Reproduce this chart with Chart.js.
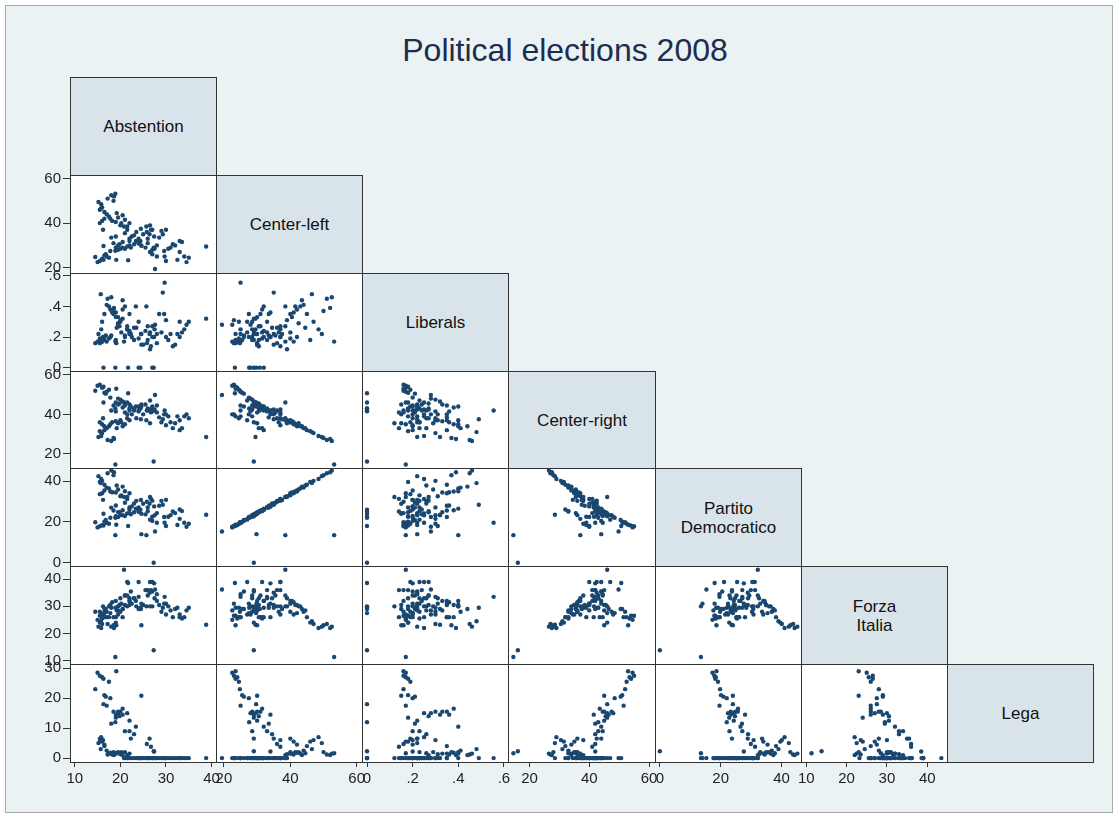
<!DOCTYPE html>
<html>
<head>
<meta charset="utf-8">
<title>Political elections 2008</title>
<script src="https://cdn.jsdelivr.net/npm/chart.js@4.4.1/dist/chart.umd.min.js"></script>
<style>
  body { margin: 0; background: #fff; font-family: "Liberation Sans", Arial, sans-serif; }
  #frame { position: absolute; left: 5px; top: 5px; width: 1108px; height: 808px; background: #eaf2f3; border: 1px solid #a8a8a8; box-sizing: border-box; }
  #title { position: absolute; left: 0; top: 34px; width: 1130px; text-align: center; font-size: 32px; line-height: 32px; color: #1d2c4f; }
  .diag { position: absolute; background: #d9e4ea; border: 1px solid #333; box-sizing: border-box; display: flex; align-items: center; justify-content: center; text-align: center; font-size: 17px; line-height: 19px; color: #111; }
  canvas { position: absolute; }
</style>
</head>
<body>
<div id="frame"></div>
<div id="title">Political elections 2008</div>
<script>
// Valori per provincia (nord, regioni rosse, sud, casi speciali)
const abstention = [
  15.0,15.5,16.3,16.0,17.5,14.5,16.5,16.8,17.0,19.1,17.8,19.5,20.0,20.5,21.5,22.0,19.0,19.8,18.5,20.5,
  23.4,22.0,18.0,19.0,23.0,24.6,15.5,16.0,16.5,22.3,21.0,25.8,26.7,26.4,27.4,19.5,
  15.2,15.8,16.0,15.5,16.5,17.0,17.5,17.2,18.0,18.6,18.5,17.8,18.2,19.0,19.5,20.0,20.5,21.0,15.7,19.2,
  20.2,21.5,22.0,16.2,
  22.0,22.5,23.0,23.5,24.0,24.5,25.0,25.5,26.0,26.5,27.0,27.5,28.0,28.5,29.0,29.3,29.7,29.6,30.0,30.5,
  31.0,31.5,32.0,32.5,33.0,33.5,34.0,34.5,35.0,38.8,21.0,21.5,20.8,24.0,26.0,27.0,28.0,30.0,33.0,26.5,
  18.9,27.3,27.6,24.6,25.7,
  16.3,18.9,21.7,24.0,24.4,27.0
];
const centerLeft = [
  22.5,23.0,23.5,24.0,24.5,24.8,25.5,26.0,25.0,23.5,27.5,28.0,28.5,29.0,29.5,30.0,29.0,30.5,31.0,31.5,
  32.0,33.0,33.5,34.0,34.5,30.0,40.0,41.0,42.0,29.0,28.5,36.0,37.0,35.0,34.0,30.0,
  49.5,48.5,47.0,46.0,45.0,44.0,43.0,51.0,52.5,52.0,50.0,42.0,41.0,40.5,42.5,39.0,43.5,41.5,46.5,44.5,
  40.0,38.5,40.0,37.0,
  32.0,34.0,30.5,36.0,33.0,37.5,35.0,29.0,31.0,27.0,26.0,28.5,30.0,33.5,36.5,35.0,25.0,27.5,37.0,28.5,
  29.0,30.5,30.0,23.5,27.0,31.5,25.0,22.5,24.5,29.5,35.5,37.0,38.5,31.5,33.0,37.0,25.0,23.0,32.0,39.0,
  53.2,29.0,19.4,29.8,38.5,
  29.7,27.6,23.3,30.8,32.0,28.0
];
const liberals = [
  .17,.16,.18,.17,.19,.16,.18,.21,.17,.16,.20,.28,.30,.32,.25,.22,.18,.27,.35,.38,
  .40,.23,.21,.36,.26,.15,.19,.17,.20,.22,.20,.16,.14,.22,.20,.33,
  .22,.25,.30,.18,.35,.41,.40,.45,.46,.39,.37,.38,.36,.33,.29,.31,.44,.40,.48,.26,
  .23,.27,.35,.20,
  .24,.20,.18,.26,.30,.22,.15,.24,.27,.23,.20,.25,.16,.35,.23,.49,.555,.35,.20,.18,
  .22,.14,.15,.22,.30,.23,.25,.28,.30,.32,.21,.25,.17,.19,.18,.27,.22,.31,.20,.12,
  .17,0,.28,.22,.40,
  0,0,0,0,0,0
];
const centerRight = [
  54.5,55.0,54.0,53.5,52.5,52.0,51.0,50.5,51.5,53.0,48.5,48.0,47.5,46.5,46.0,45.0,46.0,45.5,44.5,43.5,
  44.0,43.0,42.0,41.5,42.0,45.0,36.0,35.0,34.0,44.0,44.5,42.0,41.0,42.5,42.0,45.0,
  28.5,29.0,30.5,31.5,32.0,33.0,34.0,27.0,26.5,27.5,28.0,35.0,36.0,36.5,35.5,37.0,34.0,35.0,31.0,33.0,
  36.0,38.0,37.0,38.0,
  42.0,40.0,43.0,38.0,41.5,37.5,40.0,45.0,43.0,47.0,44.0,42.5,41.0,38.5,36.0,37.5,42.0,40.0,34.5,39.0,
  36.0,33.0,35.5,39.0,37.0,33.0,39.0,40.0,38.0,28.5,41.0,40.0,46.0,44.0,42.0,42.5,44.5,40.0,32.0,35.5,
  14.6,16.1,49.8,44.0,37.0,
  46.0,43.0,50.7,42.0,43.0,41.6
];
const partitoDemocratico = [
  17.3,17.9,18.2,18.4,19.1,19.8,20.1,20.9,19.6,18.6,22.0,22.4,23.3,23.3,24.2,24.3,22.8,24.7,25.6,25.7,
  26.5,27.1,27.0,28.0,29.0,24.0,33.6,34.0,35.4,23.7,22.9,29.9,31.3,28.9,27.6,24.8,
  42.4,41.0,40.1,39.6,38.2,36.8,36.4,43.8,45.2,44.3,42.9,34.9,34.5,34.4,35.9,32.6,37.3,35.0,39.0,37.8,
  33.0,32.2,34.0,30.8,
  26.1,27.6,24.7,30.3,27.1,30.7,28.9,23.7,25.2,21.1,20.5,23.2,24.3,27.9,30.3,28.4,19.6,22.4,30.8,22.5,
  23.3,25.1,24.3,18.5,21.5,25.3,19.6,17.6,19.1,23.5,29.4,31.2,32.2,25.4,27.1,30.4,19.6,18.0,26.1,32.2,
  13.5,0,15.3,14.0,13.5,
  24.0,22.0,18.0,25.0,26.0,22.5
];
const forzaItalia = [
  25.0,26.5,26.5,25.5,26.0,28.0,29.0,29.0,26.0,23.0,27.5,27.0,28.0,29.0,30.0,30.5,24.0,30.5,26.0,26.0,
  32.0,33.0,29.5,26.0,33.0,23.0,28.0,27.0,27.5,35.5,34.0,36.0,36.0,35.0,38.5,28.5,
  22.5,22.0,23.5,24.0,26.0,28.0,30.0,23.5,22.5,22.0,23.0,30.5,31.5,32.0,30.0,33.0,29.0,30.5,24.5,28.5,
  31.0,34.0,32.0,30.0,
  32.0,31.0,33.0,30.0,33.5,29.0,30.5,36.0,34.0,39.0,35.5,33.0,32.0,30.5,28.0,29.5,33.5,31.0,27.0,30.0,
  28.5,26.0,29.0,29.5,27.0,25.5,26.0,28.5,29.5,23.2,34.0,39.0,43.5,39.0,36.0,39.0,34.5,31.0,26.0,30.0,
  11.3,13.8,36.2,31.0,30.0,
  27.5,29.5,38.6,29.0,29.5,30.0
];
const lega = [
  28.5,27.5,26.5,27.0,25.5,23.0,21.0,20.5,17.5,29.0,20.0,15.0,15.5,14.5,15.0,12.5,13.5,14.0,15.5,16.5,
  10.5,9.0,11.5,14.5,8.0,20.8,6.5,5.5,4.5,6.5,9.0,4.7,3.8,6.5,2.2,15.5,
  5.0,7.0,6.0,5.5,4.0,2.5,1.5,1.2,1.5,1.0,2.0,1.8,1.2,1.5,2.0,1.3,1.0,2.0,3.0,1.6,
  2.0,1.0,1.5,6.0,
  0,0,0,0,0,0,0,0,0,0,0,0,0,0,0,0,0,0,0,0,
  0,0,0,0,0,0,0,0,0,0,0,0,0,0,0,0,0,0,0,0,
  1.6,2.3,0,0,0,
  18.0,12.0,0,0,0,0
];

// Etichette delle variabili e dei tick
const varLabels = ['Abstention', 'Center-left', 'Liberals', 'Center-right', 'Partito<br>Democratico', 'Forza<br>Italia', 'Lega'];
const abstentionTicks = [10, 20, 30, 40];
const centerLeftTicks = [20, 40, 60];
const liberalsTicks = [0, .2, .4, .6];
const centerRightTicks = [20, 40, 60];
const pdTicks = [0, 20, 40];
const forzaTicks = [10, 20, 30, 40];
const legaTicks = [0, 10, 20, 30];

const series = [abstention, centerLeft, liberals, centerRight, partitoDemocratico, forzaItalia, lega];
const tickSets = [abstentionTicks, centerLeftTicks, liberalsTicks, centerRightTicks, pdTicks, forzaTicks, legaTicks];

// Range degli assi (come in Stata: range dei dati + margine)
const ranges = [[8.96, 40.96], [17.6, 61.6], [-0.022, 0.618], [12.8, 62.0], [-1.6, 46.4], [8.7, 44.9], [-1.3, 31.4]];

// Griglia della matrice (pixel)
const cols = [70, 216, 362, 508, 655, 801, 947, 1093];
const rows = [77, 175, 273, 371, 468, 566, 664, 762];

Chart.defaults.font.family = '"Liberation Sans", Arial, sans-serif';

// Sfondo bianco e bordo per ogni cella
const cellFrame = {
  id: 'cellFrame',
  beforeDraw(chart) {
    const { ctx, chartArea: a } = chart;
    ctx.save();
    ctx.fillStyle = '#fff';
    ctx.fillRect(a.left, a.top, a.right - a.left, a.bottom - a.top);
    ctx.restore();
  },
  afterDraw(chart) {
    const { ctx, chartArea: a } = chart;
    ctx.save();
    ctx.strokeStyle = '#333';
    ctx.lineWidth = 1;
    ctx.strokeRect(a.left + 0.5, a.top + 0.5, a.right - a.left, a.bottom - a.top);
    ctx.restore();
  }
};

function fmt(v) {
  if (v !== 0 && Math.abs(v) < 1) return v.toFixed(1).replace(/^0/, '');
  return String(v);
}

function axis(v, show, dir) {
  return {
    type: 'linear',
    min: ranges[v][0],
    max: ranges[v][1],
    display: show,
    grid: { drawOnChartArea: false, drawTicks: true, tickLength: dir === 'y' ? 7 : 5, color: '#333' },
    border: { display: false },
    ticks: { autoSkip: false, maxRotation: 0, padding: dir === 'y' ? 2 : 3, color: '#222', font: { size: 15 }, callback: fmt },
    afterBuildTicks: s => { s.ticks = tickSets[v].map(t => ({ value: t })); },
    afterFit: s => {
      if (!show) return;
      if (dir === 'y') s.width = 64; else s.height = 28;
    }
  };
}

function makeCell(r, c) {
  const pad = 12;
  const showY = c === 0, showX = r === 6;
  const axisW = showY ? 64 : 0, axisH = showX ? 28 : 0;
  const w = cols[c + 1] - cols[c], h = rows[r + 1] - rows[r];
  const cv = document.createElement('canvas');
  cv.width = pad + axisW + w + pad;
  cv.height = pad + h + axisH + pad;
  cv.style.left = (cols[c] - pad - axisW) + 'px';
  cv.style.top = (rows[r] - pad) + 'px';
  document.body.appendChild(cv);
  new Chart(cv, {
    type: 'scatter',
    data: {
      datasets: [{
        data: series[c].map((v, i) => ({ x: v, y: series[r][i] })),
        backgroundColor: '#1a476f',
        borderWidth: 0,
        pointRadius: 2.2
      }]
    },
    options: {
      responsive: false,
      animation: false,
      events: [],
      layout: { padding: pad },
      plugins: { legend: { display: false }, tooltip: { enabled: false } },
      scales: { x: axis(c, showX, 'x'), y: axis(r, showY, 'y') }
    },
    plugins: [cellFrame]
  });
}

// Celle diagonali con i nomi
for (let i = 0; i < 7; i++) {
  const d = document.createElement('div');
  d.className = 'diag';
  d.style.left = cols[i] + 'px';
  d.style.top = rows[i] + 'px';
  d.style.width = (cols[i + 1] - cols[i] + 1) + 'px';
  d.style.height = (rows[i + 1] - rows[i] + 1) + 'px';
  d.innerHTML = varLabels[i];
  document.body.appendChild(d);
}

// Triangolo inferiore
for (let r = 1; r < 7; r++) {
  for (let c = 0; c < r; c++) makeCell(r, c);
}
</script>
</body>
</html>
